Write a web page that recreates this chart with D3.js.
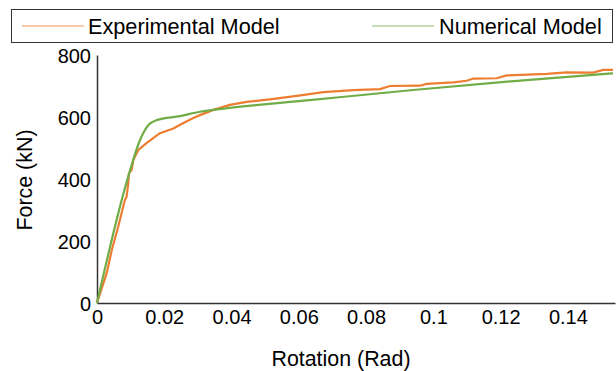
<!DOCTYPE html>
<html>
<head>
<meta charset="utf-8">
<script src="https://cdn.jsdelivr.net/npm/d3@7"></script>
<style>
  body { margin: 0; background: #fff; }
  text { font-family: "Liberation Sans", Arial, sans-serif; fill: #000; }
</style>
</head>
<body>
<svg id="chart" width="616" height="371"></svg>
<script>
const seriesNames = ['Experimental Model', 'Numerical Model'];

const expRotation = [0, 0.0029, 0.0044, 0.0063, 0.0078, 0.0083, 0.0088, 0.0093, 0.0095, 0.0103, 0.0108, 0.0123,
  0.0147, 0.0187, 0.0227, 0.0247, 0.0286, 0.0306, 0.0346, 0.0395, 0.0445, 0.0514, 0.0594, 0.0673, 0.0762,
  0.0841, 0.0871, 0.096, 0.098, 0.1059, 0.1099, 0.1119, 0.1188, 0.1218, 0.1337, 0.1396, 0.1475, 0.1505, 0.1534];
const expForce = [0, 97, 171, 246, 311, 332, 343, 387, 419, 429, 461, 494,
  516, 548, 563, 575, 597, 606, 623, 639, 649, 657, 668, 680, 687,
  690, 700, 701, 707, 712, 717, 724, 725, 734, 739, 744, 743, 752, 752];

const numRotation = [0, 0.009, 0.0128, 0.0153, 0.0177, 0.0247, 0.0306, 0.0345, 0.064, 0.094, 0.124, 0.1534];
const numForce = [0, 397, 526, 574, 590, 603, 617, 623, 655, 687, 716, 741];

const xTicks = [0, 0.02, 0.04, 0.06, 0.08, 0.1, 0.12, 0.14];
const yTicks = [0, 200, 400, 600, 800];

const colors = ['#ED7D31', '#70AD47'];

const svg = d3.select('#chart');
const margin = { left: 97, right: 1, top: 55, bottom: 68 };
const width = 616, height = 371;

const x = d3.scaleLinear().domain([0, 0.154]).range([margin.left, width - margin.right]);
const y = d3.scaleLinear().domain([0, 800]).range([height - margin.bottom, margin.top]);

// legend
const legend = svg.append('g');
legend.append('rect')
  .attr('x', 11.5).attr('y', 9.5).attr('width', 601).attr('height', 33)
  .attr('fill', '#fff').attr('stroke', '#333').attr('stroke-width', 1);
const legendPos = [{ lx: 22, tx: 88 }, { lx: 372, tx: 439 }];
seriesNames.forEach((name, i) => {
  legend.append('line')
    .attr('x1', legendPos[i].lx).attr('x2', legendPos[i].lx + 62)
    .attr('y1', 26).attr('y2', 26)
    .attr('stroke', colors[i]).attr('stroke-width', 1).attr('opacity', 0.8);
  legend.append('text')
    .attr('x', legendPos[i].tx).attr('y', 33.5)
    .attr('font-size', '21.7px')
    .text(name);
});

// axes
const xAxis = svg.append('g')
  .attr('transform', `translate(0,${y(0)})`)
  .call(d3.axisBottom(x).tickValues(xTicks).tickSize(0).tickPadding(7)
    .tickFormat(d => d3.format('~g')(d)));
const yAxis = svg.append('g')
  .attr('transform', `translate(${x(0)},0)`)
  .call(d3.axisLeft(y).tickValues(yTicks).tickSize(0).tickPadding(6));

[xAxis, yAxis].forEach(a => {
  a.select('.domain').attr('stroke', '#333').attr('stroke-width', 1.5);
  a.selectAll('text').attr('font-size', '20px').attr('fill', '#000')
    .style('font-family', '"Liberation Sans", Arial, sans-serif');
});
yAxis.selectAll('text').attr('dy', '0.35em');

svg.append('text')
  .attr('x', 341).attr('y', 366)
  .attr('text-anchor', 'middle').attr('font-size', '21.4px')
  .text('Rotation (Rad)');

svg.append('text')
  .attr('transform', 'translate(32,180) rotate(-90)')
  .attr('text-anchor', 'middle').attr('font-size', '21.4px')
  .text('Force (kN)');

// lines
const line = d3.line().x(d => x(d[0])).y(d => y(d[1]));
const expData = expRotation.map((r, i) => [r, expForce[i]]);
const numData = numRotation.map((r, i) => [r, numForce[i]]);

svg.append('path').datum(expData)
  .attr('d', line).attr('fill', 'none')
  .attr('stroke', colors[0]).attr('stroke-width', 2.2);
svg.append('path').datum(numData)
  .attr('d', line.curve(d3.curveMonotoneX)).attr('fill', 'none')
  .attr('stroke', colors[1]).attr('stroke-width', 2.2);
</script>
</body>
</html>
